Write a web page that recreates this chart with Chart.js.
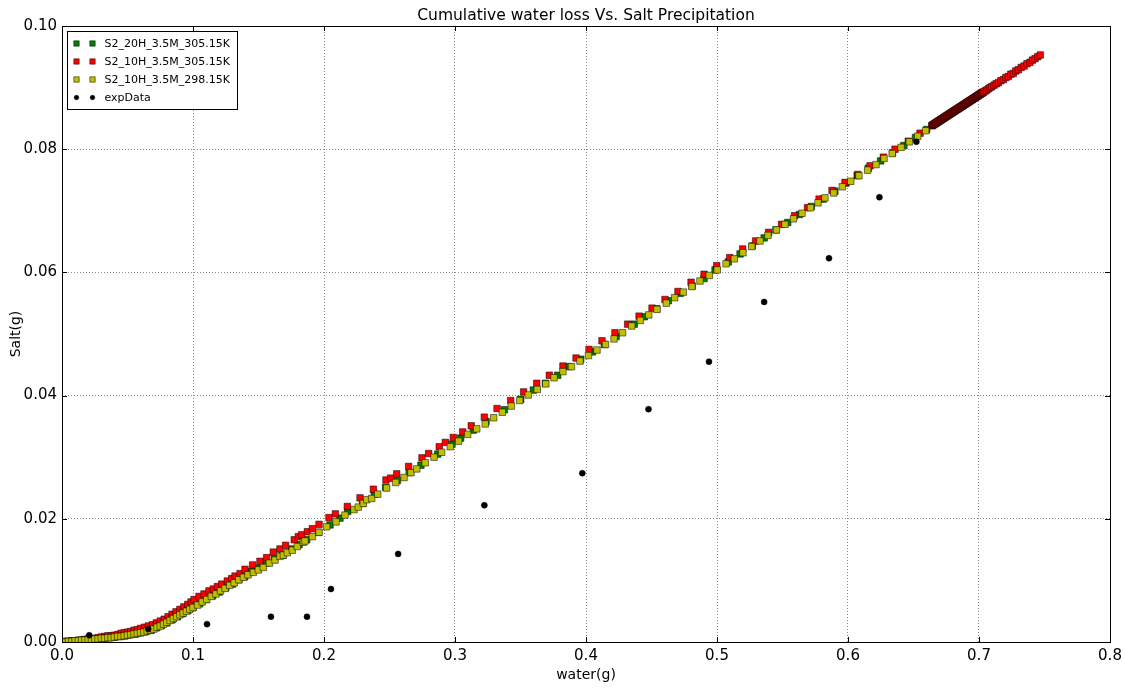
<!DOCTYPE html>
<html>
<head>
<meta charset="utf-8">
<title>Cumulative water loss Vs. Salt Precipitation</title>
<script src="https://cdn.jsdelivr.net/npm/chart.js@4"></script>
<style>
	html, body { margin: 0; padding: 0; background: #ffffff; }
	#saltChart { display: block; }
</style>
</head>
<body>
<canvas id="saltChart" width="1125" height="688"></canvas>
<script>

//titles and labels
const chartTitle = "Cumulative water loss Vs. Salt Precipitation";
const xTitle = "water(g)";
const yTitle = "Salt(g)";
const seriesNames = ["S2_20H_3.5M_305.15K", "S2_10H_3.5M_305.15K", "S2_10H_3.5M_298.15K", "expData"];

//S2_20H_3.5M_305.15K (green)
const water20h305 = [0, 0.004, 0.008, 0.012, 0.016, 0.020, 0.024, 0.028, 0.032, 0.036,
	0.040, 0.044, 0.048, 0.052, 0.056, 0.060, 0.064, 0.068, 0.072, 0.076,
	0.080, 0.084, 0.088, 0.092, 0.096, 0.100, 0.105, 0.110, 0.115, 0.120,
	0.125, 0.130, 0.135, 0.1395, 0.1443, 0.1491, 0.1556, 0.1621, 0.1685, 0.1750,
	0.1810, 0.1868, 0.1958, 0.2046, 0.2122, 0.2181, 0.2295, 0.2384, 0.2470, 0.2560,
	0.2650, 0.2740, 0.2868, 0.2977, 0.3043, 0.3140, 0.3237, 0.3377, 0.3502, 0.3598,
	0.3690, 0.3784, 0.3868, 0.3960, 0.4050, 0.4140, 0.4230, 0.4369, 0.4445, 0.4540,
	0.4628, 0.4720, 0.4810, 0.4901, 0.4985, 0.5086, 0.5176, 0.5270, 0.5360, 0.5450,
	0.5540, 0.5630, 0.5720, 0.5810, 0.5900, 0.5985, 0.6070, 0.6155, 0.6249, 0.6340,
	0.6427, 0.6515, 0.6601];
const salt20h305 = [0, 0.0001, 0.0001, 0.0002, 0.0003, 0.0004, 0.0005, 0.0005, 0.0006, 0.0007,
	0.0008, 0.0009, 0.0010, 0.0012, 0.0013, 0.0015, 0.0017, 0.0019, 0.0023, 0.0027,
	0.0031, 0.0036, 0.0041, 0.0046, 0.0051, 0.0056, 0.0062, 0.0069, 0.0075, 0.0081,
	0.0088, 0.0094, 0.0101, 0.0106, 0.0114, 0.0120, 0.0128, 0.0135, 0.0141, 0.0151,
	0.0158, 0.0166, 0.0178, 0.0190, 0.0201, 0.0212, 0.0225, 0.0240, 0.0251, 0.0262,
	0.0275, 0.0287, 0.0305, 0.0321, 0.0331, 0.0344, 0.0358, 0.0377, 0.0394, 0.0409,
	0.0420, 0.0433, 0.0447, 0.0459, 0.0471, 0.0483, 0.0496, 0.0516, 0.0528, 0.0541,
	0.0554, 0.0566, 0.0578, 0.0590, 0.0604, 0.0617, 0.0630, 0.0643, 0.0656, 0.0669,
	0.0681, 0.0694, 0.0707, 0.0719, 0.0732, 0.0745, 0.0757, 0.0769, 0.0781, 0.0794,
	0.0806, 0.0819, 0.0832];

//S2_10H_3.5M_305.15K (red)
const water10h305 = [0, 0.0025, 0.005, 0.0075, 0.01, 0.0125, 0.015, 0.0175, 0.02, 0.0225,
	0.025, 0.0275, 0.03, 0.0325, 0.035, 0.0375, 0.04, 0.0425, 0.045, 0.0475,
	0.05, 0.0525, 0.055, 0.0575, 0.06, 0.063, 0.066, 0.069, 0.072, 0.075,
	0.078, 0.081, 0.084, 0.087, 0.09, 0.093, 0.096, 0.0985,
	0.1008, 0.1046, 0.1084, 0.1122, 0.1155, 0.1186, 0.1219, 0.1262, 0.1295, 0.1321,
	0.1359, 0.1397, 0.1455, 0.1511, 0.1562, 0.1613, 0.1664, 0.1707, 0.1773, 0.1804,
	0.1829, 0.1873, 0.1911, 0.1962, 0.2038, 0.2087, 0.2178, 0.2275, 0.2377, 0.2473,
	0.2509, 0.2555, 0.2646, 0.2748, 0.2799, 0.2880, 0.2926, 0.2987, 0.3059, 0.3124,
	0.3224, 0.3321, 0.3425, 0.3524, 0.3624, 0.3720, 0.3824, 0.3924, 0.4023, 0.4122,
	0.4221, 0.4318, 0.4405, 0.4504, 0.4603, 0.4702, 0.4802, 0.4901, 0.4998, 0.5097,
	0.5196, 0.5295, 0.5394, 0.5493, 0.5592, 0.5691, 0.5779, 0.5878, 0.5977, 0.6074,
	0.6168, 0.6270, 0.6359, 0.6460, 0.6550, 0.6639,
	//dense run of saved steps near the end
	0.6643, 0.6647, 0.6651, 0.6655, 0.6659, 0.6663, 0.6667, 0.6671, 0.6675, 0.6679,
	0.6683, 0.6687, 0.6691, 0.6695, 0.6699, 0.6703, 0.6707, 0.6711, 0.6715, 0.6719,
	0.6723, 0.6727, 0.6731, 0.6735, 0.6739, 0.6743, 0.6747, 0.6751, 0.6755, 0.6759,
	0.6763, 0.6767, 0.6771, 0.6775, 0.6779, 0.6783, 0.6787, 0.6791, 0.6795, 0.6799,
	0.6803, 0.6807, 0.6811, 0.6815, 0.6819, 0.6823, 0.6827, 0.6831, 0.6835, 0.6839,
	0.6843, 0.6847, 0.6851, 0.6855, 0.6859, 0.6863, 0.6867, 0.6871, 0.6875, 0.6879,
	0.6883, 0.6887, 0.6891, 0.6895, 0.6899, 0.6903, 0.6907, 0.6911, 0.6915, 0.6919,
	0.6923, 0.6927, 0.6931, 0.6935, 0.6939, 0.6943, 0.6947, 0.6951, 0.6955, 0.6959,
	0.6963, 0.6967, 0.6971, 0.6975, 0.6979, 0.6983, 0.6987, 0.6991, 0.6995, 0.6999,
	0.7003, 0.7007, 0.7011, 0.7015, 0.7019, 0.7023, 0.7027, 0.7031, 0.7035,
	0.7047, 0.7059, 0.7071, 0.7084, 0.7097, 0.7115, 0.7131, 0.7148, 0.7167, 0.7186,
	0.7205, 0.7224, 0.7243, 0.7262, 0.7281, 0.7300, 0.7322, 0.7344, 0.7366, 0.7389,
	0.7408, 0.7428, 0.7448, 0.7468];
const salt10h305 = [0, 0.0001, 0.0001, 0.0002, 0.0002, 0.0003, 0.0003, 0.0004, 0.0005, 0.0005,
	0.0006, 0.0007, 0.0008, 0.0009, 0.0010, 0.0010, 0.0011, 0.0012, 0.0014, 0.0015,
	0.0016, 0.0017, 0.0019, 0.0020, 0.0022, 0.0024, 0.0026, 0.0028, 0.0031, 0.0034,
	0.0037, 0.0041, 0.0045, 0.0049, 0.0053, 0.0057, 0.0061, 0.0065,
	0.0069, 0.0074, 0.0078, 0.0083, 0.0086, 0.0090, 0.0094, 0.0099, 0.0103, 0.0107,
	0.0111, 0.0118, 0.0125, 0.0131, 0.0137, 0.0146, 0.0151, 0.0157, 0.0166, 0.0171,
	0.0174, 0.0179, 0.0184, 0.0191, 0.0202, 0.0208, 0.0220, 0.0234, 0.0248, 0.0263,
	0.0266, 0.0273, 0.0285, 0.0299, 0.0306, 0.0317, 0.0324, 0.0332, 0.0341, 0.0351,
	0.0365, 0.0379, 0.0392, 0.0406, 0.0420, 0.0433, 0.0448, 0.0461, 0.0475, 0.0489,
	0.0502, 0.0516, 0.0529, 0.0542, 0.0556, 0.0569, 0.0584, 0.0597, 0.0611, 0.0624,
	0.0638, 0.0651, 0.0665, 0.0678, 0.0692, 0.0705, 0.0719, 0.0733, 0.0746, 0.0759,
	0.0773, 0.0787, 0.0800, 0.0813, 0.0826, 0.0838,
	0.08386, 0.08391, 0.08397, 0.08402, 0.08408, 0.08414, 0.08419, 0.08425, 0.08430, 0.08436,
	0.08441, 0.08447, 0.08453, 0.08458, 0.08464, 0.08469, 0.08475, 0.08480, 0.08486, 0.08491,
	0.08497, 0.08502, 0.08508, 0.08514, 0.08519, 0.08525, 0.08530, 0.08536, 0.08541, 0.08547,
	0.08552, 0.08558, 0.08563, 0.08569, 0.08575, 0.08580, 0.08586, 0.08591, 0.08597, 0.08602,
	0.08608, 0.08613, 0.08619, 0.08624, 0.08630, 0.08635, 0.08641, 0.08647, 0.08652, 0.08658,
	0.08663, 0.08669, 0.08674, 0.08680, 0.08685, 0.08691, 0.08696, 0.08702, 0.08708, 0.08713,
	0.08719, 0.08724, 0.08730, 0.08735, 0.08741, 0.08746, 0.08752, 0.08757, 0.08763, 0.08769,
	0.08774, 0.08780, 0.08785, 0.08791, 0.08796, 0.08802, 0.08807, 0.08813, 0.08818, 0.08824,
	0.08830, 0.08835, 0.08841, 0.08846, 0.08852, 0.08857, 0.08863, 0.08868, 0.08874, 0.08879,
	0.08885, 0.08891, 0.08896, 0.08902, 0.08907, 0.08913, 0.08918, 0.08924, 0.08929,
	0.08945, 0.0896, 0.0898, 0.0900, 0.09015, 0.0904, 0.09062, 0.0908, 0.09112, 0.0913,
	0.09164, 0.0918, 0.09217, 0.0923, 0.0927, 0.0929, 0.09327, 0.0935, 0.09388, 0.0941,
	0.09446, 0.0947, 0.09501, 0.0953];

//S2_10H_3.5M_298.15K (yellow)
const water10h298 = [0, 0.0025, 0.005, 0.0075, 0.01, 0.0125, 0.015, 0.0175, 0.02, 0.0225,
	0.025, 0.0275, 0.03, 0.0325, 0.035, 0.0375, 0.04, 0.0425, 0.045, 0.0475,
	0.05, 0.0525, 0.055, 0.0575, 0.06, 0.0625, 0.065, 0.0675, 0.07, 0.0725,
	0.075, 0.0775, 0.08, 0.0825, 0.085, 0.0875, 0.09, 0.0925, 0.095, 0.0975, 0.1,
	0.1035, 0.1070, 0.1105, 0.1140, 0.1175, 0.1210, 0.1245, 0.1280, 0.1315, 0.1350,
	0.1385, 0.1420,
	0.1461, 0.1499, 0.1537, 0.1583, 0.1626, 0.1664, 0.1690, 0.1720, 0.1758, 0.1796,
	0.1842, 0.1855, 0.1911, 0.1962, 0.2020, 0.2092, 0.2160, 0.2229, 0.2262, 0.2300,
	0.2326, 0.2364, 0.2410, 0.2478, 0.2547, 0.2611, 0.2664, 0.2708, 0.2773, 0.2840,
	0.2898, 0.2964, 0.3028, 0.3097, 0.3166, 0.3231, 0.3295, 0.3361, 0.3430, 0.3494,
	0.3560, 0.3628, 0.3693, 0.3756, 0.3824, 0.3889, 0.3954, 0.4019, 0.4084, 0.4149,
	0.4214, 0.4279, 0.4349, 0.4415, 0.4479, 0.4542, 0.4613, 0.4677, 0.4743, 0.4809,
	0.4870, 0.4941, 0.5002, 0.5069, 0.5132, 0.5198, 0.5265, 0.5328, 0.5389, 0.5454,
	0.5519, 0.5584, 0.5649, 0.5714, 0.5771, 0.5824, 0.5891, 0.5957, 0.6021, 0.6084,
	0.6150, 0.6214, 0.6275, 0.6338, 0.6405, 0.6468, 0.6532, 0.6593];
const salt10h298 = [0, 0, 0.0001, 0.0001, 0.0002, 0.0002, 0.0003, 0.0003, 0.0004, 0.0004,
	0.0005, 0.0005, 0.0006, 0.0006, 0.0007, 0.0007, 0.0008, 0.0009, 0.0009, 0.0010,
	0.0011, 0.0012, 0.0013, 0.0014, 0.0015, 0.0016, 0.0018, 0.0019, 0.0021, 0.0024,
	0.0026, 0.0029, 0.0032, 0.0035, 0.0038, 0.0041, 0.0044, 0.0047, 0.0050, 0.0053, 0.0056,
	0.0060, 0.0065, 0.0069, 0.0074, 0.0078, 0.0083, 0.0087, 0.0092, 0.0096, 0.0101,
	0.0105, 0.0109,
	0.0113, 0.0117, 0.0121, 0.0128, 0.0133, 0.0139, 0.0141, 0.0145, 0.0149, 0.0155,
	0.0162, 0.0164, 0.0171, 0.0178, 0.0187, 0.0195, 0.0206, 0.0215, 0.0219, 0.0225,
	0.0231, 0.0233, 0.0240, 0.0250, 0.0259, 0.0267, 0.0275, 0.0281, 0.0291, 0.0300,
	0.0308, 0.0317, 0.0326, 0.0337, 0.0346, 0.0354, 0.0364, 0.0373, 0.0383, 0.0392,
	0.0401, 0.0410, 0.0419, 0.0429, 0.0439, 0.0447, 0.0456, 0.0465, 0.0474, 0.0483,
	0.0492, 0.0502, 0.0513, 0.0522, 0.0531, 0.0540, 0.0550, 0.0559, 0.0568, 0.0577,
	0.0586, 0.0595, 0.0604, 0.0614, 0.0622, 0.0632, 0.0642, 0.0651, 0.0660, 0.0669,
	0.0678, 0.0687, 0.0696, 0.0705, 0.0713, 0.0721, 0.0729, 0.0739, 0.0748, 0.0757,
	0.0766, 0.0775, 0.0785, 0.0793, 0.0803, 0.0812, 0.0821, 0.0830];

//experimental data (black dots)
const waterExp = [0.0208, 0.0658, 0.1107, 0.1595, 0.1870, 0.2053, 0.2566, 0.3224, 0.3972, 0.4477,
	0.4939, 0.5360, 0.5855, 0.6240, 0.6522];
const saltExp = [0.0011, 0.0021, 0.0029, 0.0041, 0.0041, 0.0086, 0.0143, 0.0222, 0.0274, 0.0378,
	0.0455, 0.0552, 0.0623, 0.0722, 0.0812];

//axis ranges
const xMin = 0, xMax = 0.8, xStep = 0.1;
const yMin = 0, yMax = 0.1, yStep = 0.02;

const fontFamily = "'DejaVu Sans', 'Liberation Sans', sans-serif";

function toPoints(xs, ys) {
	return xs.map((x, i) => ({ x: x, y: ys[i] }));
}

//matplotlib style series, first one drawn first (highest order)
function squareSeries(label, xs, ys, color, order) {
	return {
		label: label,
		data: toPoints(xs, ys),
		pointStyle: 'rect',
		pointRadius: 4.6,
		backgroundColor: color,
		pointBackgroundColor: color,
		borderColor: '#000000',
		pointBorderColor: 'rgba(0,0,0,0.85)',
		pointBorderWidth: 0.6,
		showLine: false,
		clip: 0,
		order: order
	};
}

const myDatasets = [
	squareSeries(seriesNames[0], water20h305, salt20h305, '#008000', 3),
	squareSeries(seriesNames[1], water10h305, salt10h305, '#ff0000', 2),
	squareSeries(seriesNames[2], water10h298, salt10h298, '#bfbf00', 1),
	{
		label: seriesNames[3],
		data: toPoints(waterExp, saltExp),
		pointStyle: 'circle',
		pointRadius: 3,
		backgroundColor: '#000000',
		pointBackgroundColor: '#000000',
		borderColor: '#000000',
		pointBorderColor: '#000000',
		pointBorderWidth: 0.5,
		showLine: false,
		clip: 0,
		order: 0
	}
];

//frame, inward ticks, title and the legend box like matplotlib draws them
const mplDecor = {
	id: 'mplDecor',
	afterDatasetsDraw(chart) {
		const ctx = chart.ctx, a = chart.chartArea;
		const xs = chart.scales.x, ys = chart.scales.y;
		ctx.save();
		ctx.strokeStyle = '#000000';
		ctx.lineWidth = 1;
		ctx.beginPath();
		xs.ticks.forEach(t => {
			let px = Math.round(xs.getPixelForValue(t.value)) + 0.5;
			ctx.moveTo(px, a.bottom); ctx.lineTo(px, a.bottom - 5);
			ctx.moveTo(px, a.top); ctx.lineTo(px, a.top + 5);
		});
		ys.ticks.forEach(t => {
			let py = Math.round(ys.getPixelForValue(t.value)) + 0.5;
			ctx.moveTo(a.left, py); ctx.lineTo(a.left + 5, py);
			ctx.moveTo(a.right, py); ctx.lineTo(a.right - 5, py);
		});
		ctx.stroke();
		ctx.strokeRect(a.left + 0.5, a.top + 0.5, a.right - a.left, a.bottom - a.top);
		ctx.restore();
	},
	afterDraw(chart) {
		const ctx = chart.ctx, a = chart.chartArea;
		ctx.save();

		//title centred on the plot area
		ctx.fillStyle = '#000000';
		ctx.font = "15.5px " + fontFamily;
		ctx.textAlign = 'center';
		ctx.textBaseline = 'middle';
		ctx.fillText(chartTitle, (a.left + a.right) / 2, 16);

		//legend box in the upper left corner
		let lx = a.left + 5.5, ly = a.top + 5.5, lw = 170, lh = 78;
		ctx.fillStyle = '#ffffff';
		ctx.fillRect(lx, ly, lw, lh);
		ctx.strokeStyle = '#000000';
		ctx.lineWidth = 1;
		ctx.strokeRect(lx, ly, lw, lh);

		ctx.font = "11px " + fontFamily;
		ctx.textAlign = 'left';
		chart.data.datasets.forEach((ds, i) => {
			let rowY = ly + 12 + i * 18;
			[lx + 9, lx + 25].forEach(mx => {
				ctx.beginPath();
				if (ds.pointStyle === 'rect') {
					ctx.rect(mx - 2.7, rowY - 2.7, 5.4, 5.4);
				} else {
					ctx.arc(mx, rowY, 2.3, 0, Math.PI * 2);
				}
				ctx.fillStyle = ds.backgroundColor;
				ctx.fill();
				ctx.lineWidth = 0.5;
				ctx.strokeStyle = '#000000';
				ctx.stroke();
			});
			ctx.fillStyle = '#000000';
			ctx.fillText(ds.label, lx + 37, rowY + 0.5);
		});
		ctx.restore();
	}
};

const gridStyle = { color: 'rgba(0,0,0,0.45)', lineWidth: 1, drawTicks: false };

window.myChart = new Chart(document.getElementById("saltChart").getContext('2d'), {
	type: 'scatter',
	data: { datasets: myDatasets },
	options: {
		responsive: false,
		animation: false,
		devicePixelRatio: 1,
		events: [],
		layout: { padding: { top: 26, right: 15, bottom: 0, left: 0 } },
		plugins: {
			legend: { display: false },
			title: { display: false },
			tooltip: { enabled: false }
		},
		scales: {
			x: {
				type: 'linear',
				min: xMin, max: xMax,
				grid: gridStyle,
				border: { display: false, dash: [1, 2] },
				ticks: {
					stepSize: xStep,
					padding: 5,
					color: '#000000',
					font: { family: fontFamily, size: 15 },
					maxRotation: 0,
					callback: (v) => Number(v).toFixed(1)
				},
				title: {
					display: true, text: xTitle, color: '#000000',
					font: { family: fontFamily, size: 14 },
					padding: { top: 0, bottom: 4 }
				},
				//fixed box like the matplotlib axes, labels may hang over the edges
				afterFit: (scale) => { scale.height = 46; scale.paddingLeft = 0; scale.paddingRight = 0; }
			},
			y: {
				type: 'linear',
				min: yMin, max: yMax,
				grid: gridStyle,
				border: { display: false, dash: [1, 2] },
				ticks: {
					stepSize: yStep,
					padding: 5,
					color: '#000000',
					font: { family: fontFamily, size: 15 },
					callback: (v) => Number(v).toFixed(2)
				},
				title: {
					display: true, text: yTitle, color: '#000000',
					font: { family: fontFamily, size: 14 },
					padding: { top: 8, bottom: 0 }
				},
				afterFit: (scale) => { scale.width = 62; scale.paddingTop = 0; scale.paddingBottom = 0; }
			}
		}
	},
	plugins: [mplDecor]
}); //end of chart

</script>
</body>
</html>
